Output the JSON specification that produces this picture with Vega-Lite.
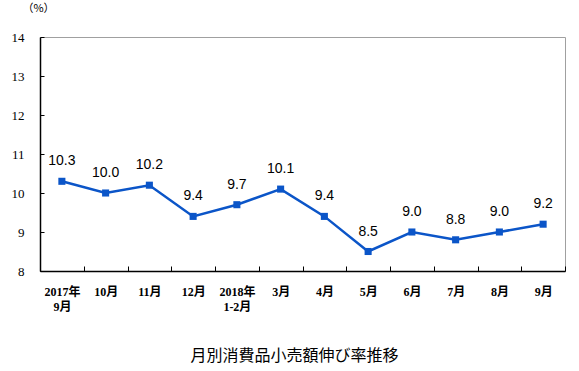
{
  "$schema": "https://vega.github.io/schema/vega-lite/v6.json",
  "width": 525,
  "height": 234,
  "autosize": "none",
  "padding": {"left": 40, "top": 37, "right": 14, "bottom": 100},
  "background": "white",
  "config": {"view": {"stroke": "#a0a0a0", "strokeWidth": 1}},
  "title": {
    "text": "月別消費品小売額伸び率推移",
    "orient": "bottom",
    "anchor": "middle",
    "font": "Noto Sans CJK JP",
    "fontSize": 16,
    "fontWeight": "normal",
    "color": "#000000",
    "offset": 36,
    "dx": -8
  },
  "data": {
    "values": [
      {"month": "2017年|9月", "value": 10.3},
      {"month": "10月", "value": 10.0},
      {"month": "11月", "value": 10.2},
      {"month": "12月", "value": 9.4},
      {"month": "2018年|1-2月", "value": 9.7},
      {"month": "3月", "value": 10.1},
      {"month": "4月", "value": 9.4},
      {"month": "5月", "value": 8.5},
      {"month": "6月", "value": 9.0},
      {"month": "7月", "value": 8.8},
      {"month": "8月", "value": 9.0},
      {"month": "9月", "value": 9.2}
    ]
  },
  "encoding": {
    "x": {
      "field": "month",
      "type": "ordinal",
      "sort": null,
      "scale": {"type": "band", "paddingInner": 0, "paddingOuter": 0},
      "axis": {
        "title": null,
        "labelAngle": 0,
        "labelExpr": "datum.value ? split(datum.value, '|') : ''",
        "labelOverlap": false,
        "labelFont": "Liberation Serif, Noto Sans CJK JP",
        "labelFontSize": 12,
        "labelFontWeight": "bold",
        "labelColor": "#000000",
        "labelPadding": 20,
        "labelLineHeight": 15,
        "domainColor": "#000000",
        "domainWidth": 1.5,
        "tickColor": "#000000",
        "tickSize": -5,
        "tickBand": "extent",
        "grid": false
      }
    },
    "y": {
      "field": "value",
      "type": "quantitative",
      "scale": {"domain": [8, 14], "nice": false, "zero": false},
      "axis": {
        "title": "（%）",
        "titleAngle": 0,
        "titleX": -2,
        "titleY": -24,
        "titleAlign": "center",
        "titleFont": "Noto Sans CJK JP",
        "titleFontSize": 11,
        "titleFontWeight": "normal",
        "titleColor": "#000000",
        "values": [8, 9, 10, 11, 12, 13, 14],
        "labelFont": "Liberation Serif",
        "labelFontSize": 13,
        "labelColor": "#000000",
        "labelPadding": 20,
        "domainColor": "#000000",
        "domainWidth": 1.5,
        "tickColor": "#000000",
        "tickSize": -4,
        "grid": false
      }
    }
  },
  "layer": [
    {
      "mark": {"type": "line", "color": "#0B55C8", "strokeWidth": 2.5}
    },
    {
      "mark": {"type": "square", "color": "#0B55C8", "opacity": 1, "size": 50}
    },
    {
      "mark": {"type": "text", "font": "Liberation Sans", "fontSize": 14, "color": "#000000", "baseline": "middle", "dy": -20},
      "encoding": {"text": {"field": "value", "type": "quantitative", "format": ".1f"}}
    }
  ]
}
